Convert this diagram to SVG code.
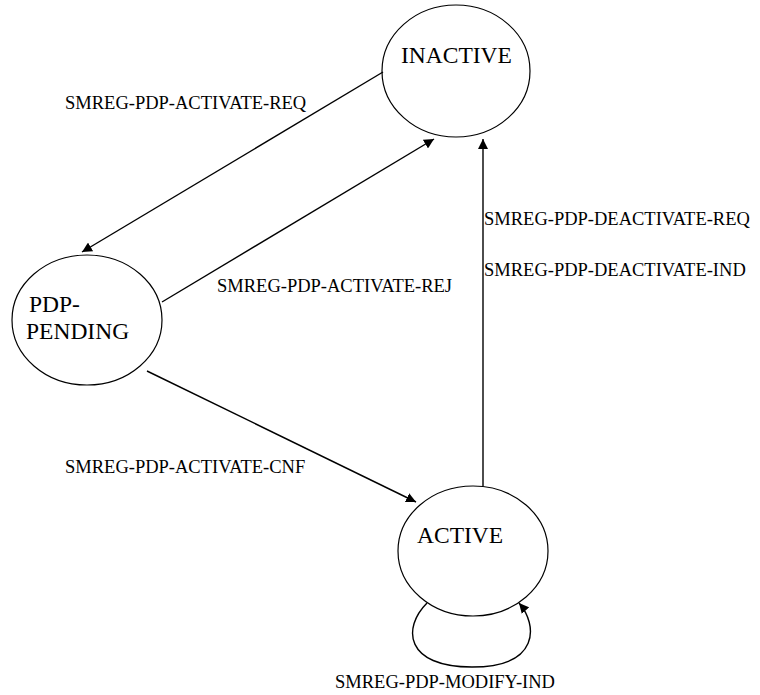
<svg xmlns="http://www.w3.org/2000/svg" width="760" height="695" viewBox="0 0 760 695">
<style>
.node ellipse{fill:#fff;stroke:#000;stroke-width:1.2}
.nt{font-family:"Liberation Serif","Times New Roman",serif;font-size:23.5px;fill:#000}
.lt{font-family:"Liberation Serif","Times New Roman",serif;font-size:18.5px;fill:#000}
.edge{fill:none;stroke:#000;stroke-width:1.4;marker-end:url(#ah)}
</style>
<defs>
<marker id="ah" viewBox="0 0 10 10" refX="10" refY="5" markerWidth="10" markerHeight="10" markerUnits="userSpaceOnUse" orient="auto">
<path d="M0,0 L10,5 L0,10 z" fill="#000"/>
</marker>
</defs>
<rect width="760" height="695" fill="#fff"/>
<g id="inactive" class="node">
<ellipse cx="456" cy="71" rx="74" ry="66"/>
<text class="nt" x="401" y="63">INACTIVE</text>
</g>
<g id="pdp-pending" class="node">
<ellipse cx="87" cy="320" rx="75" ry="65"/>
<text class="nt" x="29" y="312">PDP-</text>
<text class="nt" x="26" y="339">PENDING</text>
</g>
<g id="active" class="node">
<ellipse cx="473" cy="551" rx="75" ry="65"/>
<text class="nt" x="417" y="543">ACTIVE</text>
</g>
<g id="connectors">
<path class="edge" d="M383,72 L82,252"/>
<path class="edge" d="M162,302 L434,139"/>
<path class="edge" d="M147,371 L416,502"/>
<path class="edge" d="M483,486 L483,139"/>
<path class="edge" d="M427,603 C402,628 405,667 472,667 C540,667 538,625 519,603"/>
</g>
<g id="labels">
<text class="lt" x="65" y="109">SMREG-PDP-ACTIVATE-REQ</text>
<text class="lt" x="217" y="292">SMREG-PDP-ACTIVATE-REJ</text>
<text class="lt" x="65" y="473">SMREG-PDP-ACTIVATE-CNF</text>
<text class="lt" x="484" y="225">SMREG-PDP-DEACTIVATE-REQ</text>
<text class="lt" x="484" y="276">SMREG-PDP-DEACTIVATE-IND</text>
<text class="lt" x="335" y="688">SMREG-PDP-MODIFY-IND</text>
</g>
</svg>
